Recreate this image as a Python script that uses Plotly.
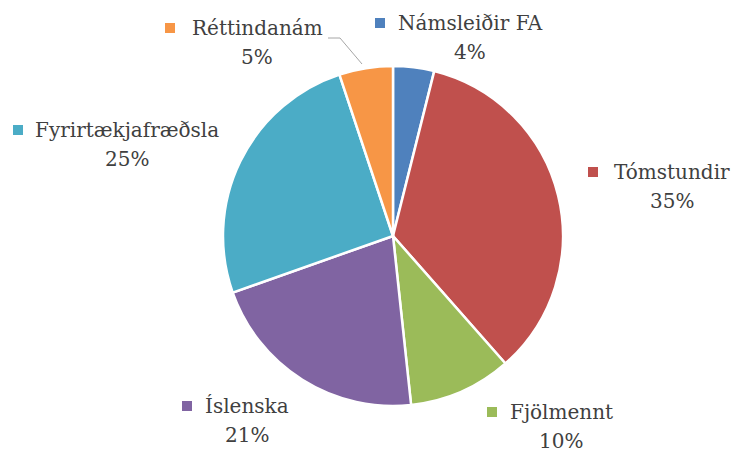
import plotly.graph_objects as go

labels = ["Námsleiðir FA", "Tómstundir", "Fjölmennt", "Íslenska", "Fyrirtækjafræðsla", "Réttindanám"]
values = [3.9, 34.6, 9.8, 21.3, 25.3, 5.1]
colors = ["#4F81BD", "#C0504D", "#9BBB59", "#8064A2", "#4BACC6", "#F79646"]

# layout: label text centre x, first-line y, legend-square x (px)
label_cx = [470, 672, 561, 247, 127, 257]
label_y = [23, 172, 412, 406, 130, 28]
square_x = [380, 593, 492, 187, 18, 170]

W, H = 737, 453
FONT = "DejaVu Serif"
TXT = "#404040"
FS = 20

fig = go.Figure(go.Pie(
    labels=labels, values=values, sort=False, direction="clockwise", rotation=0,
    marker=dict(colors=colors, line=dict(color="white", width=2.5)),
    textinfo="none", hoverinfo="label+percent", showlegend=False,
    domain=dict(x=[(393 - 170) / W, (393 + 170) / W], y=[(H - 236 - 170) / H, (H - 236 + 170) / H]),
))

total = sum(values)
for lab, v, c, cx, cy, sx in zip(labels, values, colors, label_cx, label_y, square_x):
    pct = f"{round(v / total * 100)}%"
    fig.add_annotation(x=cx / W, y=1 - cy / H, xref="paper", yref="paper",
                       text=lab, showarrow=False, xanchor="center", yanchor="middle",
                       font=dict(family=FONT, size=FS, color=TXT))
    fig.add_annotation(x=cx / W, y=1 - (cy + 29) / H, xref="paper", yref="paper",
                       text=pct, showarrow=False, xanchor="center", yanchor="middle",
                       borderpad=0,
                       font=dict(family=FONT, size=FS, color=TXT))
    fig.add_shape(type="rect", xref="paper", yref="paper",
                  x0=(sx - 5) / W, x1=(sx + 5) / W, y0=1 - (cy + 5) / H, y1=1 - (cy - 5) / H,
                  fillcolor=c, line=dict(width=0))

# leader line for Réttindanám
fig.add_shape(type="path", xref="paper", yref="paper",
              path=f"M {328 / W} {1 - 38 / H} L {340 / W} {1 - 38 / H} L {362 / W} {1 - 64 / H}",
              line=dict(color="#A6A6A6", width=1))

fig.update_layout(width=W, height=H, margin=dict(l=0, r=0, t=0, b=0),
                  paper_bgcolor="white", plot_bgcolor="white")
fig.write_html("out.html", config={"displayModeBar": False},
               post_script="document.body.style.margin='0';")
